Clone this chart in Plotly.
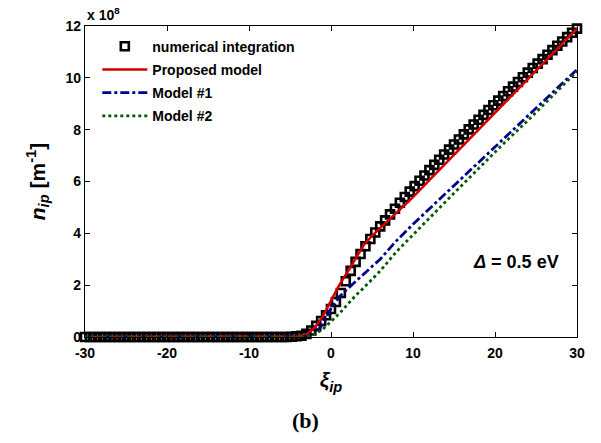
import plotly.graph_objects as go

# ---------------- data ----------------
num_x = [-30, -29.4, -28.8, -28.2, -27.6, -27, -26.4, -25.8, -25.2, -24.6, -24, -23.4,
         -22.8, -22.2, -21.6, -21, -20.4, -19.8, -19.2, -18.6, -18, -17.4, -16.8, -16.2,
         -15.6, -15, -14.4, -13.8, -13.2, -12.6, -12, -11.4, -10.8, -10.2, -9.6, -9,
         -8.4, -7.8, -7.2, -6.6, -6, -5.4,
         -4.8, -4.2, -3.6, -3.0, -2.4, -1.8, -1.2, -0.6, 0, 0.6, 1.2, 1.8, 2.4, 3.0, 3.6,
         4.2, 4.8, 5.4, 6.0, 6.6, 7.2, 7.8, 8.4, 9.0, 9.6,
         10.2, 10.8, 11.4, 12.0, 12.6, 13.2, 13.8, 14.4, 15.0, 15.6, 16.2, 16.8, 17.4,
         18.0, 18.6, 19.2, 19.8, 20.4, 21.0, 21.6, 22.2, 22.8, 23.4, 24.0, 24.6, 25.2,
         25.8, 26.4, 27.0, 27.6, 28.2, 28.8, 29.4, 30]
num_y = [0.0, 0.0, 0.0, 0.0, 0.0, 0.0, 0.0, 0.0, 0.0, 0.0, 0.0, 0.0,
         0.0, 0.0, 0.0, 0.0, 0.0, 0.0, 0.0, 0.0, 0.0, 0.0, 0.0, 0.0,
         0.0, 0.0, 0.0, 0.0, 0.0, 0.0, 0.0, 0.0, 0.0, 0.0, 0.0, 0.0,
         0.0, 0.0, 0.0, 0.0, 0.0, 0.0,
         0.01, 0.03, 0.05, 0.12, 0.25, 0.43, 0.62, 0.84, 1.08, 1.35, 1.7, 2.15, 2.55, 2.9, 3.2,
         3.5, 3.78, 4.03, 4.27, 4.5, 4.73, 4.95, 5.18, 5.4, 5.61,
         5.82, 6.03, 6.23, 6.44, 6.64, 6.84, 7.04, 7.23, 7.43, 7.62, 7.82, 8.01, 8.2,
         8.38, 8.57, 8.76, 8.94, 9.12, 9.3, 9.48, 9.66, 9.84, 10.02, 10.2, 10.38, 10.55,
         10.72, 10.89, 11.07, 11.24, 11.4, 11.57, 11.74, 11.9]

prop_x = [-30, -5, -4, -3, -2, -1, 0, 1, 2, 3, 4, 5, 6, 8, 10, 12, 14, 16, 18, 20, 22, 24, 26, 28, 30]
prop_y = [0.0, 0.01, 0.03, 0.1, 0.35, 0.8, 1.4, 2.0, 2.5, 3.0, 3.55, 3.9, 4.2, 4.8, 5.4,
          6.05, 6.7, 7.35, 8.0, 8.65, 9.3, 9.95, 10.6, 11.25, 11.9]

m1_x = [-30, -4, -3, -2, -1, 0, 1, 2, 3, 4, 5, 6, 8, 10, 12, 15, 18, 21, 24, 27, 30]
m1_y = [0.0, 0.0, 0.02, 0.12, 0.5, 1.1, 1.55, 1.85, 2.15, 2.45, 2.72, 3.0, 3.72, 4.35,
        4.95, 5.85, 6.75, 7.65, 8.55, 9.45, 10.32]

m2_x = [-30, -4, -3, -2, -1, 0, 1, 2, 3, 4, 6, 8, 10, 12, 15, 18, 21, 24, 27, 30]
m2_y = [0.0, 0.0, 0.03, 0.1, 0.3, 0.6, 0.9, 1.25, 1.6, 1.9, 2.55, 3.3, 3.95, 4.6, 5.55,
        6.5, 7.45, 8.35, 9.3, 10.25]

x_ticks = [-30, -20, -10, 0, 10, 20, 30]
y_ticks = [0, 2, 4, 6, 8, 10, 12]

FONT = "Liberation Sans, Arial, sans-serif"

fig = go.Figure()
fig.add_trace(go.Scatter(
    x=num_x, y=num_y, mode="markers", name="numerical integration",
    marker=dict(symbol="square-open", size=8, color="black", line=dict(width=2.6, color="black")),
    cliponaxis=False, legendgroup="a"))
fig.add_trace(go.Scatter(
    x=prop_x, y=prop_y, mode="lines", name="Proposed model",
    line=dict(color="#d40000", width=2.5), cliponaxis=False, legendgroup="b"))
fig.add_trace(go.Scatter(
    x=m1_x, y=m1_y, mode="lines", name="Model #1",
    line=dict(color="#00008c", width=2.8, dash="dashdot"), cliponaxis=False, legendgroup="c"))
fig.add_trace(go.Scatter(
    x=m2_x, y=m2_y, mode="lines", name="Model #2",
    line=dict(color="#005a00", width=2.8, dash="dot"), cliponaxis=False, legendgroup="d"))

axis_common = dict(
    showline=True, linecolor="black", linewidth=1.3, mirror="ticks",
    ticks="inside", ticklen=5, tickwidth=1, tickcolor="black",
    showgrid=False, zeroline=False,
    tickfont=dict(family=FONT, size=14, color="black", weight="bold"),
)

fig.update_layout(
    width=601, height=443,
    margin=dict(l=85, r=24, t=26, b=106),
    paper_bgcolor="white", plot_bgcolor="white",
    font=dict(family=FONT, color="black"),
    showlegend=True,
    legend=dict(x=0.025, y=0.985, xanchor="left", yanchor="top",
                bgcolor="rgba(0,0,0,0)", borderwidth=0,
                font=dict(family=FONT, size=14, color="black", weight="bold"),
                traceorder="grouped", tracegroupgap=2, itemwidth=45),
    xaxis=dict(range=[-30, 30], tickvals=x_ticks, ticktext=[str(v) for v in x_ticks],
               ticklabelstandoff=3,
               title=dict(text="<b><i>ξ</i><sub><i>ip</i></sub></b>",
                          font=dict(family=FONT, size=21, color="black"), standoff=12),
               **axis_common),
    yaxis=dict(range=[0, 12], tickvals=y_ticks, ticktext=[str(v) for v in y_ticks],
               title=dict(text="<b><i>n</i><sub><i>ip</i></sub> [m<sup>-1</sup>]</b>",
                          font=dict(family=FONT, size=21, color="black"), standoff=14),
               **axis_common),
    annotations=[
        dict(text="<b>x 10<sup>8</sup></b>", xref="paper", yref="paper", x=0.0, y=1.0,
             xanchor="left", yanchor="bottom", showarrow=False, yshift=1,
             font=dict(family=FONT, size=14, color="black")),
        dict(text="<b><i>Δ</i> = 0.5 eV</b>", xref="x", yref="y", x=22.6, y=2.9,
             showarrow=False, font=dict(family=FONT, size=18, color="black")),
        dict(text="<b>(b)</b>", xref="paper", yref="paper", x=0.448, y=-0.27,
             xanchor="center", yanchor="middle", showarrow=False,
             font=dict(family="Liberation Serif, Times New Roman, serif", size=22, color="black")),
    ],
)

fig.write_html("out.html")
